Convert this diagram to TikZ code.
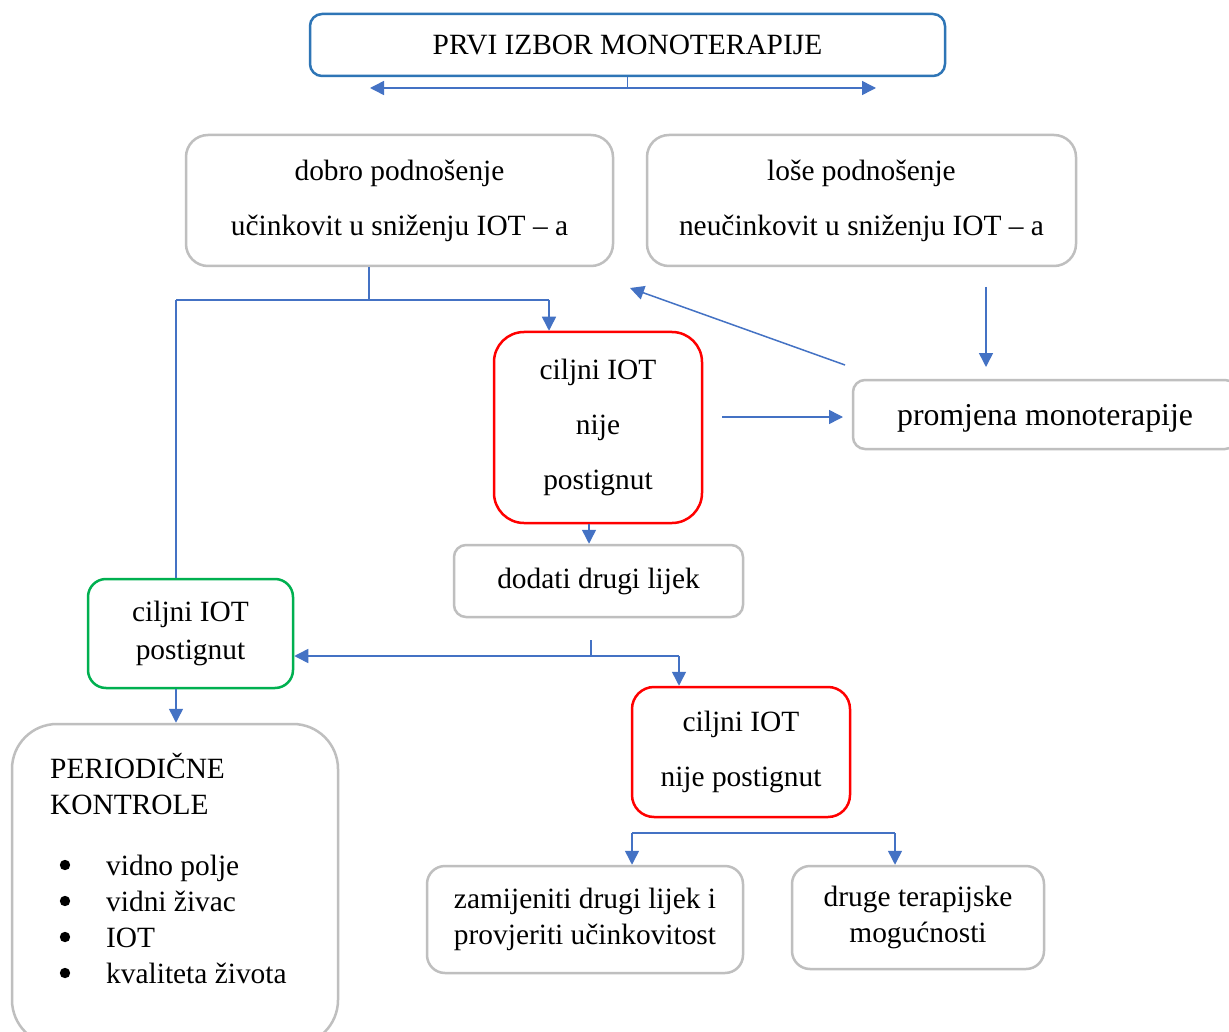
\documentclass[tikz,border=0pt]{standalone}
\usepackage{fontspec}
\setmainfont{Liberation Serif}
\usetikzlibrary{arrows.meta}
\definecolor{lnblue}{HTML}{4472C4}
\definecolor{topblue}{HTML}{2E75B6}
\definecolor{boxgray}{HTML}{BFBFBF}
\definecolor{okgreen}{HTML}{00B050}
\definecolor{nored}{HTML}{FF0000}
\newcommand{\bulgap}{\hspace*{56pt}}
\begin{document}
\begin{tikzpicture}[x=1pt,y=-1pt,
  box/.style={draw=boxgray, rounded corners=#1, line width=2.5pt, fill=white, align=center,
    inner sep=0pt, font=\fontsize{29.4}{36}\selectfont},
  box/.default=12pt,
  conn/.style={draw=lnblue, line width=1.5pt},
  arr/.style={conn, -{Triangle[length=14pt,width=14pt]}},
  darr/.style={conn, {Triangle[length=14pt,width=14pt]}-{Triangle[length=14pt,width=14pt]}},
  bul/.style={fill=black}
]
\fill[white] (0,0) rectangle (1229,1032);
\useasboundingbox (0,0) rectangle (1229,1032);

% boxes
\node[box=12pt, draw=topblue, minimum width=635pt, minimum height=62pt] (top) at (627.5,45) {PRVI IZBOR MONOTERAPIJE};
\node[box=22pt, minimum width=427pt, minimum height=131pt] (dobro) at (399.5,200.5) {dobro podnošenje\\[19pt]učinkovit u sniženju IOT – a};
\node[box=22pt, minimum width=429pt, minimum height=131pt] (lose) at (861.5,200.5) {loše podnošenje\\[19pt]neučinkovit u sniženju IOT – a};
\node[box=30pt, draw=nored, minimum width=208pt, minimum height=191pt] (red1) at (598,427.5) {ciljni IOT\\[19pt]nije\\[19pt]postignut};
\node[box=12pt, minimum width=384pt, minimum height=69pt, font=\fontsize{31.8}{38}\selectfont] (prom) at (1045,414.5) {\raisebox{-4pt}[\height][\depth]{promjena monoterapije}};
\node[box=12pt, minimum width=289pt, minimum height=72pt] (dodati) at (598.5,581) {dodati drugi lijek};
\node[box=18pt, draw=okgreen, minimum width=205pt, minimum height=109pt] (green) at (190.5,633.5) {ciljni IOT\\[2pt]postignut};
\node[box=45pt, minimum width=326pt, minimum height=321pt] (period) at (175,884.5) {};
\node[anchor=north west, inner sep=0pt, align=left, font=\fontsize{29.4}{36}\selectfont] (ptext) at (50,753)
  {PERIODIČNE\\KONTROLE\\[25pt]
   \bulgap vidno polje\\
   \bulgap vidni živac\\
   \bulgap IOT\\
   \bulgap kvaliteta života};
\fill[bul] (65,865) circle (5.2);
\fill[bul] (65,901) circle (5.2);
\fill[bul] (65,937) circle (5.2);
\fill[bul] (65,973) circle (5.2);
\node[box=22pt, draw=nored, minimum width=218pt, minimum height=130pt] (red2) at (741,752) {ciljni IOT\\[19pt]nije postignut};
\node[box=18pt, minimum width=316pt, minimum height=107pt] (zam) at (585,919.5) {zamijeniti drugi lijek i\\provjeriti učinkovitost};
\node[box=18pt, minimum width=252pt, minimum height=103pt] (druge) at (918,917.5) {druge terapijske\\mogućnosti};

% coordinates
\coordinate (tl) at (370,88);
\coordinate (tr) at (876,88);
\coordinate (j1) at (369,300);
\coordinate (j1l) at (176,300);
\coordinate (j1r) at (549,300);
\coordinate (pa) at (845,365);
\coordinate (pb) at (630,288);
\coordinate (la) at (986,287);
\coordinate (lb) at (986,367);
\coordinate (ra) at (722,417);
\coordinate (rb) at (843,417);
\coordinate (c589) at (589,0);
\coordinate (s1) at (591,640);
\coordinate (s2) at (591,656);
\coordinate (s3) at (679,656);
\coordinate (c176) at (176,0);
\coordinate (b0) at (632,833);
\coordinate (b1) at (895,833);

% connectors
\draw[conn] (top.south) -- (top.south |- tl);
\draw[darr] (tl) -- (tr);
\draw[conn] (dobro.south -| j1) -- (j1);
\draw[conn] (j1l) -- (j1r);
\draw[arr] (j1r) -- (red1.north -| j1r);
\draw[conn] (j1l) -- (green.north -| j1l);
\draw[arr] (pa) -- (pb);
\draw[arr] (la) -- (lb);
\draw[arr] (ra) -- (rb);
\draw[arr] (red1.south -| c589) -- (dodati.north -| c589);
\draw[conn] (s1) -- (s2);
\draw[arr] (s3) -- (green.east |- s3);
\draw[arr] (s3) -- (red2.north -| s3);
\draw[arr] (green.south -| c176) -- (period.north -| c176);
\draw[conn] (b0) -- (b1);
\draw[arr] (b0) -- (zam.north -| b0);
\draw[arr] (b1) -- (druge.north -| b1);
\end{tikzpicture}
\end{document}
